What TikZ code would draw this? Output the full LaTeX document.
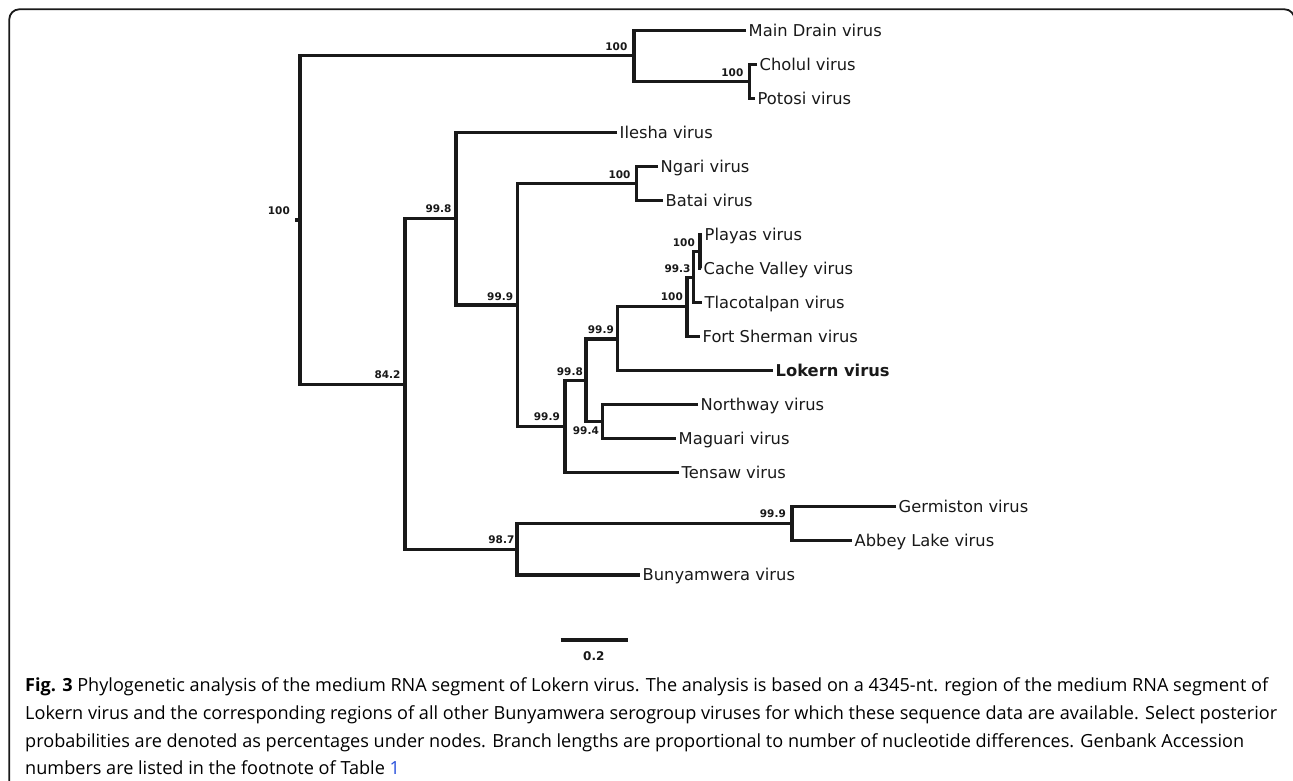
\documentclass[tikz,border=0pt]{standalone}
\usepackage{fontspec}
\newfontfamily\leaffont{DejaVu Sans}
\newfontfamily\capfont{Open Sans}
\definecolor{linkblue}{RGB}{40,80,220}
\definecolor{ink}{RGB}{25,25,25}
\begin{document}
\begin{tikzpicture}[x=1pt,y=-1pt,
  br/.style={draw=ink,line width=3.1pt,line join=miter},
  leaf/.style={anchor=base west,inner sep=0pt,xshift=2.5pt,yshift=-5.9pt,font=\leaffont\fontsize{16.3}{18}\selectfont,text=ink},
  boot/.style={anchor=south east,inner sep=0pt,font=\leaffont\bfseries\fontsize{10.5}{12}\selectfont,text=ink},
  capline/.style={anchor=base west,inner sep=0pt,font=\capfont\fontsize{18.1}{22}\selectfont,text=black}]
\useasboundingbox (0,0) rectangle (1293,780);
\fill[white] (0,0) rectangle (1293,780);
% frame
\draw[line width=1.8pt,draw=ink,rounded corners=10pt] (9.3,820) -- (9.3,9.3) -- (1294.5,9.3) -- (1294.5,820);
% internal nodes
\coordinate (R) at (300,220);
\coordinate (Rs) at (295,220);
\coordinate (T) at (634,55.9);
\coordinate (CP) at (749.5,81.5);
\coordinate (A) at (405,384.3);
\coordinate (B) at (456,218.8);
\coordinate (C) at (517.7,305);
\coordinate (NB) at (636.7,183.6);
\coordinate (D) at (565,426.8);
\coordinate (E) at (586,380.4);
\coordinate (F) at (617.3,339);
\coordinate (I) at (687,306.8);
\coordinate (J) at (693.3,277.2);
\coordinate (K) at (700,251.7);
\coordinate (H) at (602.3,421.9);
\coordinate (G) at (517,549.3);
\coordinate (L) at (792,523.9);
% leaves
\coordinate (MD) at (746,30.5);
\coordinate (Cho) at (757,64.5);
\coordinate (Pot) at (755,98.6);
\coordinate (Ile) at (617,132.6);
\coordinate (Nga) at (658,166.6);
\coordinate (Bat) at (663,200.6);
\coordinate (Pla) at (702,234.7);
\coordinate (Cac) at (701,268.7);
\coordinate (Tla) at (702,302.7);
\coordinate (For) at (700,336.8);
\coordinate (Lok) at (773,370.8);
\coordinate (Nor) at (698,404.8);
\coordinate (Mag) at (676,438.9);
\coordinate (Ten) at (679,472.9);
\coordinate (Ger) at (896,506.9);
\coordinate (Abb) at (852,540.9);
\coordinate (Bun) at (640,575);
% branches
\draw[br] (T) -| (R) |- (A);
\draw[br] (R) -- (Rs);
\draw[br] (MD) -| (T) |- (CP);
\draw[br] (Cho) -| (CP) |- (Pot);
\draw[br] (B) -| (A) |- (G);
\draw[br] (Ile) -| (B) |- (C);
\draw[br] (NB) -| (C) |- (D);
\draw[br] (Nga) -| (NB) |- (Bat);
\draw[br] (E) -| (D) |- (Ten);
\draw[br] (F) -| (E) |- (H);
\draw[br] (I) -| (F) |- (Lok);
\draw[br] (J) -| (I) |- (For);
\draw[br] (K) -| (J) |- (Tla);
\draw[br] (Pla) -| (K) |- (Cac);
\draw[br] (Nor) -| (H) |- (Mag);
\draw[br] (L) -| (G) |- (Bun);
\draw[br] (Ger) -| (L) |- (Abb);
% leaf labels
\node[leaf] (tMD) at (MD) {Main Drain virus};
\node[leaf] (tCho) at (Cho) {Cholul virus};
\node[leaf] (tPot) at (Pot) {Potosi virus};
\node[leaf] (tIle) at (Ile) {Ilesha virus};
\node[leaf] (tNga) at (Nga) {Ngari virus};
\node[leaf] (tBat) at (Bat) {Batai virus};
\node[leaf] (tPla) at (Pla) {Playas virus};
\node[leaf] (tCac) at (Cac) {Cache Valley virus};
\node[leaf] (tTla) at (Tla) {Tlacotalpan virus};
\node[leaf] (tFor) at (For) {Fort Sherman virus};
\node[leaf,font=\leaffont\bfseries\fontsize{16.3}{18}\selectfont] (tLok) at (Lok) {Lokern virus};
\node[leaf] (tNor) at (Nor) {Northway virus};
\node[leaf] (tMag) at (Mag) {Maguari virus};
\node[leaf] (tTen) at (Ten) {Tensaw virus};
\node[leaf] (tGer) at (Ger) {Germiston virus};
\node[leaf] (tAbb) at (Abb) {Abbey Lake virus};
\node[leaf] (tBun) at (Bun) {Bunyamwera virus};
% support values
\node[boot] (bR) at ([xshift=-5pt,yshift=5pt]Rs) {100};
\node[boot] (bT) at ([xshift=-6.5pt,yshift=5.2pt]T) {100};
\node[boot] (bCP) at ([xshift=-6pt,yshift=4.5pt]CP) {100};
\node[boot] (bA) at ([xshift=-4.3pt,yshift=5.5pt]A) {84.2};
\node[boot] (bB) at ([xshift=-4.3pt,yshift=5.7pt]B) {99.8};
\node[boot] (bC) at ([xshift=-4.4pt,yshift=4.5pt]C) {99.9};
\node[boot] (bNB) at ([xshift=-6pt,yshift=4.8pt]NB) {100};
\node[boot] (bD) at ([xshift=-5pt,yshift=6pt]D) {99.9};
\node[boot] (bE) at ([xshift=-3pt,yshift=4.9pt]E) {99.8};
\node[boot] (bF) at ([xshift=-3.3pt,yshift=5.2pt]F) {99.9};
\node[boot] (bI) at ([xshift=-4pt,yshift=6.2pt]I) {100};
\node[boot] (bJ) at ([xshift=-2.6pt,yshift=4.6pt]J) {99.3};
\node[boot] (bK) at ([xshift=-5pt,yshift=4.6pt]K) {100};
\node[boot,anchor=north east] (bH) at ([xshift=-3.3pt,yshift=-4.5pt]H) {99.4};
\node[boot] (bG) at ([xshift=-2.5pt,yshift=5.5pt]G) {98.7};
\node[boot] (bL) at ([xshift=-6pt,yshift=6.1pt]L) {99.9};
% scale bar
\coordinate (S1) at (560.7,640);
\coordinate (S2) at (627.7,640);
\draw[draw=ink,line width=3.4pt] (S1) -- (S2);
\node[font=\leaffont\bfseries\fontsize{12}{14}\selectfont,text=ink,inner sep=0pt] (sl) at (593.8,656) {0.2};
% caption
\node[capline] (c1) at (25,691.7) {\textbf{Fig. 3} Phylogenetic analysis of the medium RNA segment of Lokern virus. The analysis is based on a 4345-nt. region of the medium RNA segment of};
\node[capline] (c2) at (25,719.5) {Lokern virus and the corresponding regions of all other Bunyamwera serogroup viruses for which these sequence data are available. Select posterior};
\node[capline] (c3) at (25,747) {probabilities are denoted as percentages under nodes. Branch lengths are proportional to number of nucleotide differences. Genbank Accession};
\node[capline] (c4) at (25,774.5) {numbers are listed in the footnote of Table \textcolor{linkblue}{1}};
\end{tikzpicture}
\end{document}
